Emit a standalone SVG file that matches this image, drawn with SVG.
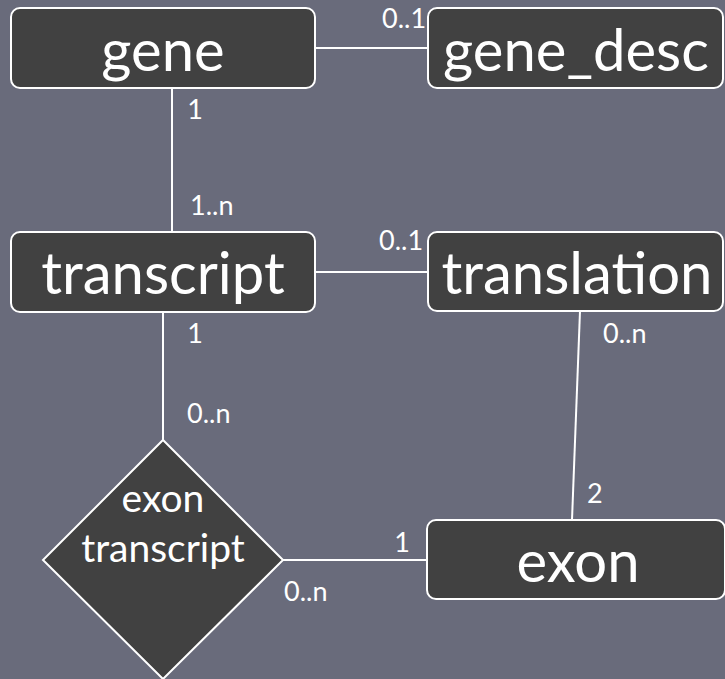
<svg xmlns="http://www.w3.org/2000/svg" width="725" height="679" viewBox="0 0 725 679">
<style>
.box{fill:#414141;stroke:#ffffff;stroke-width:2}
.big{font-family:Lato,"Open Sans","Liberation Sans",sans-serif;fill:#ffffff;text-anchor:middle;font-size:58px}
.mid{font-family:Lato,"Open Sans","Liberation Sans",sans-serif;fill:#ffffff;text-anchor:middle;font-size:39px}
.lbl{font-family:Lato,"Open Sans","Liberation Sans",sans-serif;fill:#ffffff;font-size:27px}
.one{text-anchor:middle}
.con{stroke:#ffffff;stroke-width:2;fill:none}
</style>
<rect x="0" y="0" width="725" height="679" fill="#696b7b"/>
<g id="connectors">
<line class="con" x1="315" y1="48" x2="428" y2="48"/>
<line class="con" x1="172" y1="88" x2="172" y2="232"/>
<line class="con" x1="315" y1="272" x2="428" y2="272"/>
<line class="con" x1="163" y1="312" x2="163" y2="440"/>
<line class="con" x1="283" y1="560" x2="427" y2="560"/>
<line class="con" x1="580" y1="311" x2="572" y2="520"/>
<text class="lbl" x="382" y="28">0..1</text>
<text class="lbl one" x="195" y="119">1</text>
<text class="lbl" x="190" y="215">1..n</text>
<text class="lbl" x="379" y="250">0..1</text>
<text class="lbl one" x="195" y="343">1</text>
<text class="lbl" x="187" y="423">0..n</text>
<text class="lbl" x="603" y="343">0..n</text>
<text class="lbl" x="587" y="503">2</text>
<text class="lbl one" x="402" y="552">1</text>
<text class="lbl" x="284" y="601">0..n</text>
</g>
<g id="gene">
<rect class="box" x="11" y="8" width="304" height="80" rx="9"/>
<text class="big" x="163" y="71">gene</text>
</g>
<g id="gene_desc">
<rect class="box" x="428" y="8" width="295" height="80" rx="9"/>
<text class="big" x="576" y="71">gene_desc</text>
</g>
<g id="transcript">
<rect class="box" x="11" y="232" width="304" height="80" rx="9"/>
<text class="big" x="163" y="294">transcript</text>
</g>
<g id="translation">
<rect class="box" x="428" y="232" width="295" height="79" rx="9"/>
<text class="big" x="577" y="294">translation</text>
</g>
<g id="exon_transcript">
<polygon class="box" points="163,440 283,560 163,679 43,560"/>
<text class="mid" x="163" y="512">exon</text>
<text class="mid" x="163" y="562">transcript</text>
</g>
<g id="exon">
<rect class="box" x="427" y="520" width="298" height="79" rx="9"/>
<text class="big" x="578" y="582">exon</text>
</g>
</svg>
